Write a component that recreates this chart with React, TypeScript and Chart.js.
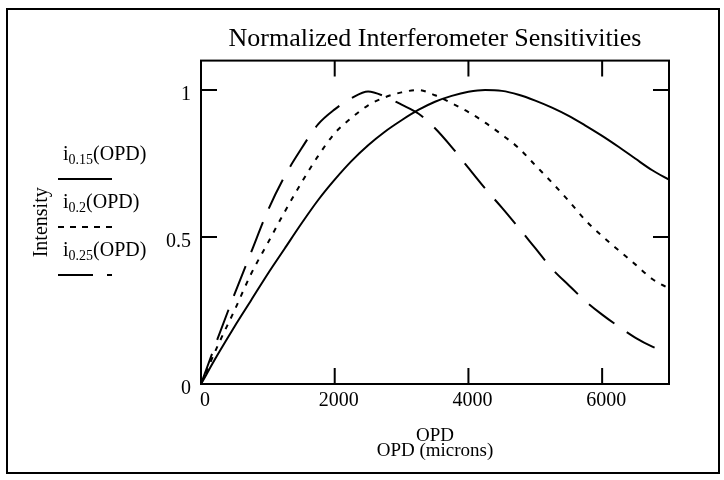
import React, { useEffect, useRef } from "react";
import { Chart, registerables } from "chart.js";

Chart.register(...registerables);

// ---- data ----
const OPD = [0, 250, 500, 750, 1000, 1250, 1500, 1750, 2000, 2250, 2500, 2750, 3000, 3250, 3500, 3750, 4000, 4250, 4500, 4750, 5000, 5250, 5500, 5750, 6000, 6250, 6500, 6750, 7000];
const I015 = [0, 0.1, 0.195, 0.285, 0.375, 0.46, 0.545, 0.625, 0.695, 0.758, 0.812, 0.858, 0.897, 0.932, 0.96, 0.98, 0.994, 1.0, 0.997, 0.984, 0.964, 0.94, 0.912, 0.879, 0.844, 0.806, 0.766, 0.727, 0.695];
const I020 = [0, 0.13, 0.25, 0.375, 0.48, 0.585, 0.684, 0.775, 0.853, 0.905, 0.948, 0.975, 0.992, 1.0, 0.982, 0.955, 0.925, 0.889, 0.848, 0.803, 0.744, 0.685, 0.623, 0.557, 0.503, 0.454, 0.406, 0.357, 0.325];
const I025 = [0, 0.155, 0.305, 0.448, 0.59, 0.706, 0.8, 0.883, 0.934, 0.972, 0.995, 0.978, 0.95, 0.92, 0.87, 0.806, 0.735, 0.665, 0.6, 0.532, 0.462, 0.392, 0.336, 0.282, 0.236, 0.195, 0.157, 0.127, 0.105];

const X_TICKS = [0, 2000, 4000, 6000];
const Y_TICKS = [0, 0.5, 1];
const X_MAX = 7000;
const Y_MAX = 1.1;

const TITLE = "Normalized Interferometer Sensitivities";
const X_TITLE = ["OPD", "OPD (microns)"];
const Y_TITLE = "Intensity";
const SERIES_SUBS = ["0.15", "0.2", "0.25"];
const SERIES_BASE = "i";
const SERIES_ARG = "(OPD)";

const FONT = "'Liberation Serif', 'Times New Roman', serif";

const innerTicks = {
  id: "innerTicks",
  afterDatasetsDraw(chart: any) {
    const { ctx, chartArea, scales } = chart;
    const { left, right, top, bottom } = chartArea;
    const xs = scales.x;
    const ys = scales.y;
    const L = 16;
    ctx.save();
    ctx.strokeStyle = "#000";
    ctx.lineWidth = 2;
    ctx.setLineDash([]);
    ctx.strokeRect(left, top, right - left, bottom - top);
    ctx.beginPath();
    for (const v of Y_TICKS) {
      if (v === 0) continue;
      const py = ys.getPixelForValue(v);
      ctx.moveTo(left, py);
      ctx.lineTo(left + L, py);
      ctx.moveTo(right, py);
      ctx.lineTo(right - L, py);
    }
    for (const v of X_TICKS) {
      if (v === 0) continue;
      const px = xs.getPixelForValue(v);
      ctx.moveTo(px, bottom);
      ctx.lineTo(px, bottom - L);
      ctx.moveTo(px, top);
      ctx.lineTo(px, top + L);
    }
    ctx.stroke();
    ctx.restore();
  },
};

function LegendSample({ dash }: { dash: string | null }) {
  return (
    <svg width={54} height={4} style={{ display: "block" }}>
      <line x1={0} y1={2} x2={54} y2={2} stroke="#000" strokeWidth={2} strokeDasharray={dash || undefined} />
    </svg>
  );
}

export default function App() {
  const ref = useRef<HTMLCanvasElement | null>(null);

  useEffect(() => {
    if (!ref.current) return;
    const mk = (arr: number[]) => OPD.map((x, i) => ({ x, y: arr[i] }));
    const common = {
      borderColor: "#000",
      borderWidth: 2,
      pointRadius: 0,
      fill: false,
      cubicInterpolationMode: "monotone" as const,
    };
    const chart = new Chart(ref.current, {
      type: "line",
      data: {
        datasets: [
          { ...common, label: "i0.15(OPD)", data: mk(I015) },
          { ...common, label: "i0.2(OPD)", data: mk(I020), borderDash: [5, 7] },
          { ...common, label: "i0.25(OPD)", data: mk(I025), borderDash: [32, 15] },
        ],
      },
      options: {
        animation: false,
        responsive: false,
        devicePixelRatio: 1,
        layout: { padding: { left: 0, right: 55, top: 0, bottom: 0 } },
        plugins: {
          legend: { display: false },
          tooltip: { enabled: false },
          title: {
            display: true,
            fullSize: false,
            text: TITLE,
            color: "#000",
            font: { family: FONT, size: 26, weight: "normal", lineHeight: 1.1 },
            padding: { top: 25, bottom: 7 },
          },
        },
        scales: {
          x: {
            type: "linear",
            min: 0,
            max: X_MAX,
            grid: { display: false, drawTicks: false },
            border: { display: false },
            afterBuildTicks: (s: any) => {
              s.ticks = X_TICKS.map((v) => ({ value: v }));
            },
            afterFit: (s: any) => {
              s.height = 96;
            },
            ticks: {
              color: "#000",
              font: { family: FONT, size: 20 },
              padding: 5,
              labelOffset: 4,
              maxRotation: 0,
              callback: (v: any) => String(v),
            },
            title: {
              display: true,
              text: X_TITLE,
              color: "#000",
              font: { family: FONT, size: 19, lineHeight: 0.82 },
              padding: { top: 4, bottom: 21 },
            },
          },
          y: {
            type: "linear",
            min: 0,
            max: Y_MAX,
            grid: { display: false, drawTicks: false },
            border: { display: false },
            afterBuildTicks: (s: any) => {
              s.ticks = Y_TICKS.map((v) => ({ value: v }));
            },
            afterFit: (s: any) => {
              s.width = 201;
            },
            ticks: {
              color: "#000",
              font: { family: FONT, size: 20 },
              padding: 10,
              labelOffset: 5,
              callback: (v: any) => String(v),
            },
            title: {
              display: true,
              text: Y_TITLE,
              color: "#000",
              font: { family: FONT, size: 20 },
              padding: { top: 30, bottom: 0 },
            },
          },
        },
      },
      plugins: [innerTicks],
    });
    return () => chart.destroy();
  }, []);

  const dashes: (string | null)[] = [null, "6 6", "35 14"];
  const textTops = [143, 191, 239];
  const lineTops = [177, 225, 273];

  return (
    <div style={{ position: "absolute", left: 0, top: 0, width: 724, height: 480, background: "#fff", overflow: "hidden" }}>
      <canvas ref={ref} width={724} height={480} style={{ position: "absolute", left: 0, top: 0, display: "block" }} />
      <div style={{ position: "absolute", left: 6, top: 8, width: 710, height: 462, border: "2px solid #000", pointerEvents: "none" }} />
      {SERIES_SUBS.map((sub, i) => (
        <React.Fragment key={sub}>
          <div
            style={{
              position: "absolute",
              left: 63,
              top: textTops[i],
              fontFamily: FONT,
              fontSize: 20,
              lineHeight: "20px",
              color: "#000",
              whiteSpace: "nowrap",
            }}
          >
            {SERIES_BASE}
            <span style={{ fontSize: 14, position: "relative", top: 4 }}>{sub}</span>
            {SERIES_ARG}
          </div>
          <div style={{ position: "absolute", left: 58, top: lineTops[i] }}>
            <LegendSample dash={dashes[i]} />
          </div>
        </React.Fragment>
      ))}
    </div>
  );
}
